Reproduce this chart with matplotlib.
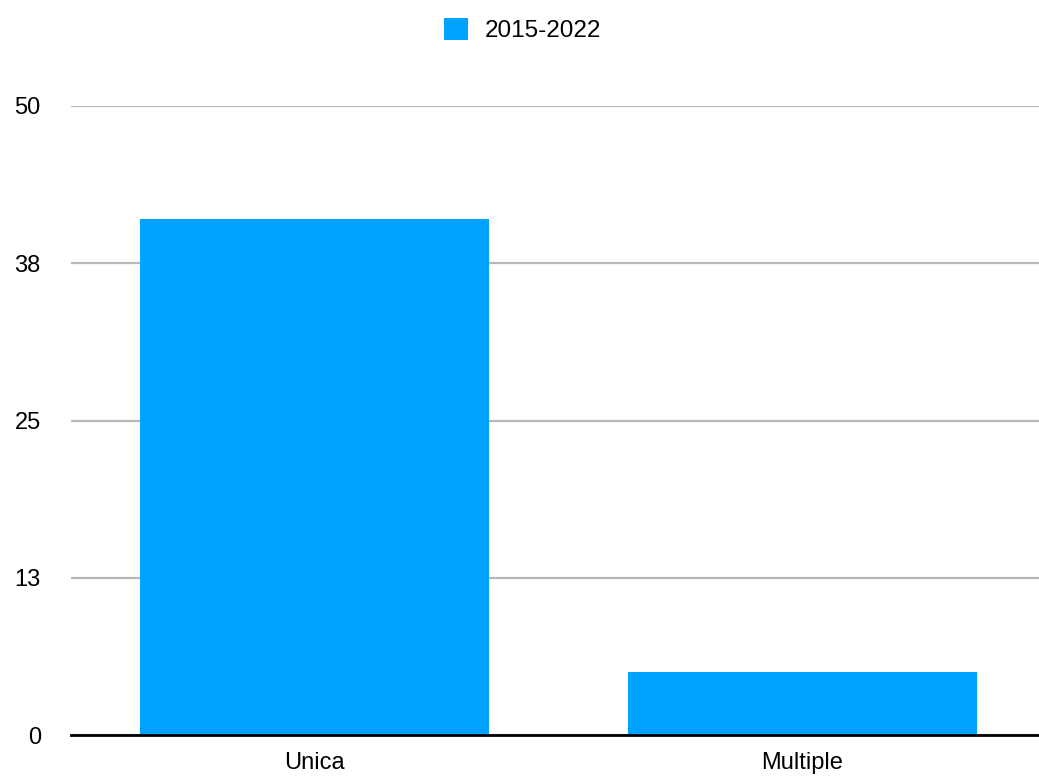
import matplotlib.pyplot as plt

plt.rcParams['font.family'] = ['Liberation Sans', 'DejaVu Sans']

categories = ['Unica', 'Multiple']
values = [41, 5]
series_name = '2015-2022'
yticks = [0, 12.5, 25, 37.5, 50]
ytick_labels = ['0', '13', '25', '38', '50']

fig = plt.figure(figsize=(10.39, 7.78), dpi=100)
ax = fig.add_axes([0.068, 0.055, 0.932, 0.809])

bars = ax.bar(range(len(categories)), values, width=0.717, color='#00A2FF',
              label=series_name, zorder=3)

ax.set_xlim(-0.5, 1.485)
ax.set_ylim(0, 50)
ax.set_yticks(yticks)
ax.set_yticklabels(ytick_labels)
ax.set_xticks(range(len(categories)))
ax.set_xticklabels(categories)

# light horizontal grid, black baseline
ax.grid(axis='y', color='#B8B8B8', linewidth=1.6, zorder=0)
for s in ['top', 'right', 'left']:
    ax.spines[s].set_visible(False)
ax.spines['bottom'].set_linewidth(2)
ax.spines['bottom'].set_color('black')
ax.spines['bottom'].set_zorder(4)

ax.tick_params(axis='both', length=0, labelsize=17)
ax.tick_params(axis='y', pad=21.5)
ax.tick_params(axis='x', pad=12)

ax.legend(loc='upper center', bbox_to_anchor=(0.503, 1.0), bbox_transform=fig.transFigure,
          frameon=False, fontsize=17.5, handlelength=1.0, handleheight=1.0,
          handletextpad=0.7, borderaxespad=0.35)

fig.savefig('out.png', dpi=100)
